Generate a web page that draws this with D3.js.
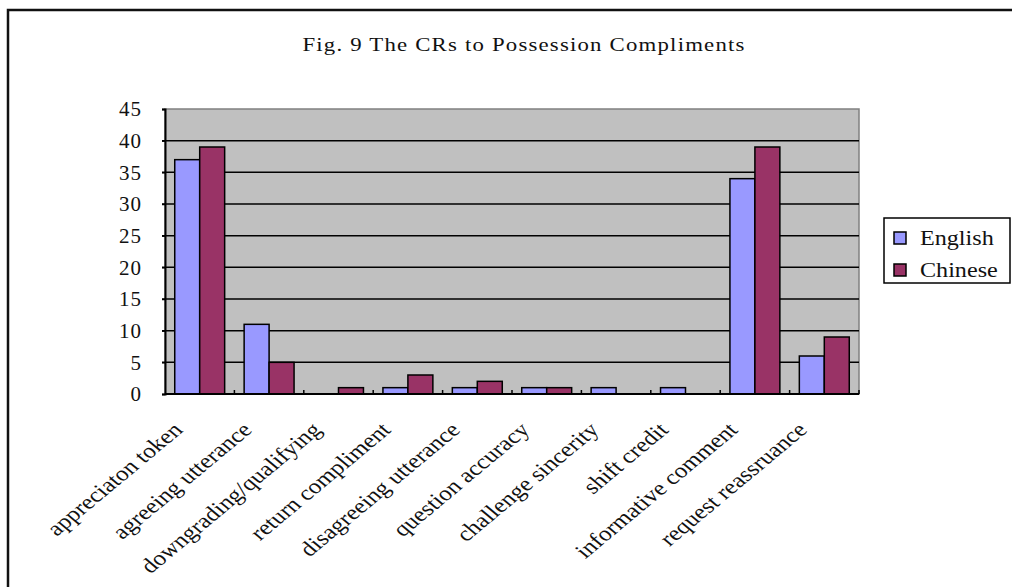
<!DOCTYPE html>
<html>
<head>
<meta charset="utf-8">
<script src="https://cdn.jsdelivr.net/npm/d3@7"></script>
<style>
  html, body { margin: 0; padding: 0; background: #fff; }
  svg { display: block; font-family: "Liberation Serif", "DejaVu Serif", serif; }
</style>
</head>
<body>
<svg id="chart" width="1012" height="587"></svg>
<script>
// data
const categories = [
  "appreciaton token", "agreeing utterance", "downgrading/qualifying",
  "return compliment", "disagreeing  utterance", "question accuracy",
  "challenge sincerity", "shift credit", "informative comment", "request reassruance"
];
const english = [37, 11, 0, 1, 1, 1, 1, 1, 34, 6];
const chinese = [39, 5, 1, 3, 2, 1, 0, 0, 39, 9];
const seriesNames = ["English", "Chinese"];
const yTicks = [0, 5, 10, 15, 20, 25, 30, 35, 40, 45];

const colors = { English: "#9999ff", Chinese: "#993366" };

// source picture is stretched sideways a bit, text too
const STRETCH = 1.2;

const svg = d3.select("#chart");
const plot = { left: 165, top: 109, right: 859, bottom: 394 };

// outer frame (cut off on right and bottom like the source)
svg.append("path")
  .attr("d", "M8,587 L8,10 L1012,10")
  .attr("fill", "none")
  .attr("stroke", "#111")
  .attr("stroke-width", 2.5);

svg.append("text")
  .attr("transform", `translate(524,51) scale(${STRETCH},1)`)
  .attr("text-anchor", "middle")
  .attr("font-size", 19)
  .attr("letter-spacing", 1)
  .attr("fill", "#111")
  .text("Fig. 9 The CRs to Possession Compliments");

const x0 = d3.scaleBand()
  .domain(categories)
  .range([plot.left, plot.right])
  .paddingInner(0)
  .paddingOuter(0);

const x1 = d3.scaleBand()
  .domain(seriesNames)
  .range([0, x0.bandwidth()])
  .paddingInner(0)
  .paddingOuter(0.39);

const y = d3.scaleLinear().domain([0, 45]).range([plot.bottom, plot.top]);

// plot background
svg.append("rect")
  .attr("x", plot.left)
  .attr("y", plot.top)
  .attr("width", plot.right - plot.left)
  .attr("height", plot.bottom - plot.top)
  .attr("fill", "#c0c0c0")
  .attr("stroke", "#808080")
  .attr("stroke-width", 1.5);

// gridlines
svg.append("g")
  .selectAll("line")
  .data(yTicks.filter((d) => d > 0 && d < 45))
  .join("line")
  .attr("x1", plot.left - 3)
  .attr("x2", plot.right)
  .attr("y1", (d) => y(d))
  .attr("y2", (d) => y(d))
  .attr("stroke", "#000")
  .attr("stroke-width", 1.5);

// y axis
const yAxisG = svg.append("g")
  .attr("transform", `translate(${plot.left},0)`)
  .call(d3.axisLeft(y).tickValues(yTicks).tickSize(3).tickPadding(20));
yAxisG.select(".domain").attr("stroke", "#000").attr("stroke-width", 2);
yAxisG.selectAll("line").attr("stroke", "#000").attr("stroke-width", 1.5);
yAxisG.selectAll("text")
  .attr("font-family", "Liberation Serif, DejaVu Serif, serif")
  .attr("font-size", 21)
  .attr("letter-spacing", 1)
  .attr("fill", "#111");

// bars
const data = categories.map((c, i) => ({ cat: c, English: english[i], Chinese: chinese[i] }));
const groups = svg.append("g")
  .selectAll("g")
  .data(data)
  .join("g")
  .attr("transform", (d) => `translate(${x0(d.cat)},0)`);

groups.selectAll("rect")
  .data((d) => seriesNames.map((s) => ({ s, v: d[s] })).filter((e) => e.v > 0))
  .join("rect")
  .attr("x", (d) => x1(d.s))
  .attr("width", x1.bandwidth())
  .attr("y", (d) => y(d.v))
  .attr("height", (d) => y(0) - y(d.v))
  .attr("fill", (d) => colors[d.s])
  .attr("stroke", "#000")
  .attr("stroke-width", 1.5);

// x axis
const xAxisG = svg.append("g")
  .attr("transform", `translate(0,${plot.bottom})`);
xAxisG.append("line")
  .attr("x1", plot.left)
  .attr("x2", plot.right)
  .attr("y1", 0)
  .attr("y2", 0)
  .attr("stroke", "#000")
  .attr("stroke-width", 2);
xAxisG.selectAll("line.tick")
  .data(categories.slice(1).concat(["__end"]))
  .join("line")
  .attr("class", "tick")
  .attr("x1", (d, i) => plot.left + x0.step() * (i + 1))
  .attr("x2", (d, i) => plot.left + x0.step() * (i + 1))
  .attr("y1", 0)
  .attr("y2", -4)
  .attr("stroke", "#000")
  .attr("stroke-width", 1.5);

xAxisG.selectAll("text")
  .data(categories)
  .join("text")
  .attr("text-anchor", "end")
  .attr("dominant-baseline", "central")
  .attr("font-size", 21)
  .attr("fill", "#111")
  .attr("transform", (d) =>
    `translate(${x0(d) + x0.bandwidth() / 2 - 22},32) scale(${STRETCH},1) rotate(-45)`)
  .text((d) => d);

// legend
const legend = svg.append("g").attr("transform", "translate(884,218)");
legend.append("rect")
  .attr("width", 126)
  .attr("height", 65)
  .attr("fill", "#fff")
  .attr("stroke", "#000")
  .attr("stroke-width", 1.5);
const items = legend.selectAll("g.item")
  .data(seriesNames)
  .join("g")
  .attr("class", "item")
  .attr("transform", (d, i) => `translate(0,${20 + i * 32})`);
items.append("rect")
  .attr("x", 10)
  .attr("y", -6)
  .attr("width", 12)
  .attr("height", 12)
  .attr("fill", (d) => colors[d])
  .attr("stroke", "#000")
  .attr("stroke-width", 1.5);
items.append("text")
  .attr("transform", `translate(36,0) scale(1.15,1)`)
  .attr("dominant-baseline", "central")
  .attr("font-size", 21)
  .attr("fill", "#111")
  .text((d) => d);
</script>
</body>
</html>
